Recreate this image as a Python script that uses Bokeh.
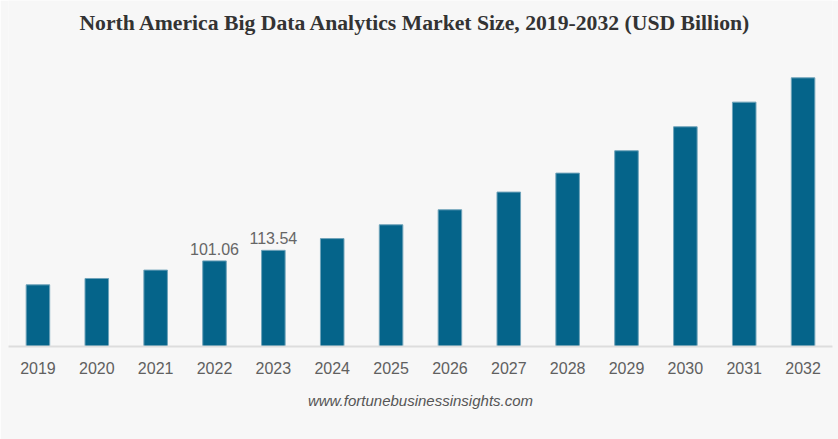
from bokeh.plotting import figure
from bokeh.models import ColumnDataSource, FactorRange, Range1d, Title
from bokeh.core.properties import value
from bokeh.embed import file_html
from bokeh.resources import INLINE

years = ["2019", "2020", "2021", "2022", "2023", "2024", "2025", "2026",
         "2027", "2028", "2029", "2030", "2031", "2032"]
market_size = [72.8, 80.3, 90.2, 101.06, 113.54, 127.4, 143.7, 161.4,
               182.3, 204.7, 231.1, 259.4, 288.5, 317.2]
labeled_years = ["2022", "2023"]
labeled_values = [101.06, 113.54]
labeled_text = ["101.06", "113.54"]

title_text = "North America Big Data Analytics Market Size, 2019-2032 (USD Billion)"
source_text = "www.fortunebusinessinsights.com"

BG = "#f7f7f7"
W, H = 838, 439

p = figure(width=W, height=H, output_backend="svg", toolbar_location=None,
           x_range=FactorRange(*years, range_padding=0),
           y_range=Range1d(0, 408.5),
           min_border_left=8, min_border_right=6, min_border_top=0,
           min_border_bottom=93, tools="")
p.background_fill_color = BG
p.border_fill_color = BG
p.outline_line_color = None
p.grid.visible = False
p.yaxis.visible = False

src = ColumnDataSource(dict(x=years, top=market_size))
p.vbar(x="x", top="top", width=0.4, source=src, fill_color="#05648a",
       line_color="#6fa3ba", line_width=1)

lab = ColumnDataSource(dict(x=labeled_years, y=labeled_values, t=labeled_text))
p.text(x="x", y="y", text="t", source=lab, text_align="center",
       text_baseline="bottom", y_offset=-6, text_color="#666666",
       text_font=value("Liberation Sans"), text_font_size="16px")

# chart title drawn as text at the top of the plotting area
ttl = ColumnDataSource(dict(x=["2025"], y=[382.5], t=[title_text]))
p.text(x="x", y="y", text="t", source=ttl, text_align="center",
       text_baseline="middle", x_offset=24.5, text_color="#333333",
       text_font=value("Liberation Serif"), text_font_style="bold",
       text_font_size="21.7px")

ax = p.xaxis[0]
ax.axis_line_color = "#dddddd"
ax.axis_line_width = 2
ax.major_tick_line_color = None
ax.minor_tick_line_color = None
ax.major_tick_out = 0
ax.major_label_standoff = 15
ax.major_label_text_font = "Liberation Sans"
ax.major_label_text_font_size = "16px"
ax.major_label_text_color = "#606060"

p.add_layout(Title(text=source_text, align="center", text_font="Liberation Sans",
                   text_font_style="italic", text_font_size="15px",
                   text_color="#555555", standoff=26), "below")

open("out.html", "w").write(file_html(p, INLINE))
